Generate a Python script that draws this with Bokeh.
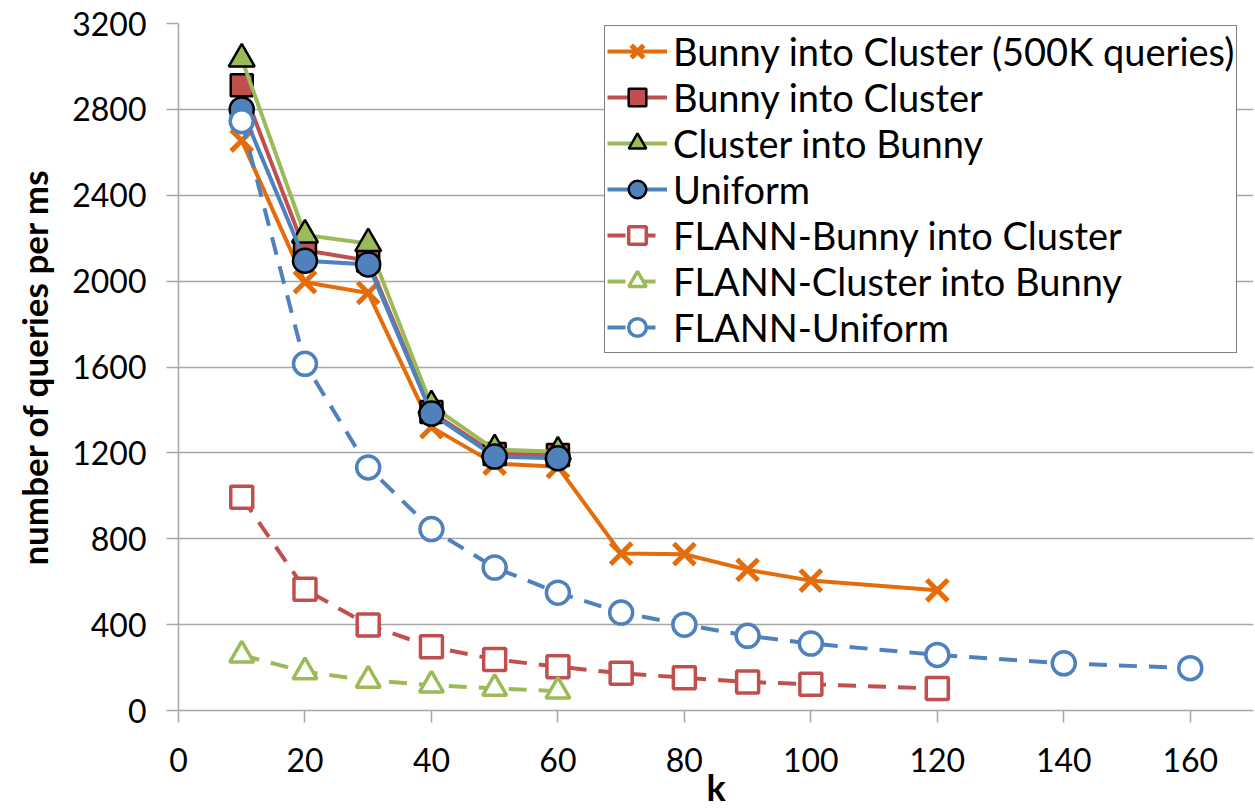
from bokeh.plotting import figure
from bokeh.models import Range1d, Legend, LegendItem, FixedTicker
from bokeh.embed import file_html
from bokeh.resources import INLINE

FONT = "Lato"

k_500k = [10, 20, 30, 40, 50, 60, 70, 80, 90, 100, 120]
bunny_500k = [2655, 1995, 1945, 1320, 1150, 1135, 731, 728, 655, 605, 560]

k_gpu = [10, 20, 30, 40, 50, 60]
bunny_cluster = [2912, 2144, 2095, 1390, 1195, 1190]
cluster_bunny = [3035, 2215, 2175, 1420, 1215, 1205]
uniform = [2800, 2095, 2078, 1383, 1183, 1175]

k_flann_bunny = [10, 20, 30, 40, 50, 60, 70, 80, 90, 100, 120]
flann_bunny = [993, 565, 398, 297, 238, 204, 173, 153, 133, 122, 102]

k_flann_cluster = [10, 20, 30, 40, 50, 60]
flann_cluster = [258, 180, 141, 118, 103, 90]

k_flann_uniform = [10, 20, 30, 40, 50, 60, 70, 80, 90, 100, 120, 140, 160]
flann_uniform = [2745, 1615, 1132, 845, 666, 549, 456, 400, 348, 312, 259, 220, 197]

x_ticks = [0, 20, 40, 60, 80, 100, 120, 140, 160]
y_ticks = [0, 400, 800, 1200, 1600, 2000, 2400, 2800, 3200]

ORANGE = "#E46C0A"
RED = "#C0504D"
GREEN = "#9BBB59"
BLUE = "#4F81BD"
GRID = "#a6a6a6"

p = figure(width=1255, height=811, output_backend="svg", toolbar_location=None,
           x_range=Range1d(0, 170), y_range=Range1d(0, 3200),
           min_border_left=178, min_border_right=2, min_border_top=23, min_border_bottom=101)
p.outline_line_color = None
p.background_fill_color = "white"
p.border_fill_color = "white"

p.xgrid.grid_line_color = None
p.ygrid.grid_line_color = GRID
p.ygrid.grid_line_width = 1.5
p.ygrid.ticker = FixedTicker(ticks=y_ticks)

p.xaxis.ticker = FixedTicker(ticks=x_ticks)
p.yaxis.ticker = FixedTicker(ticks=y_ticks)
for ax in (p.xaxis, p.yaxis):
    ax.axis_line_color = GRID
    ax.axis_line_width = 1.5
    ax.major_tick_line_color = GRID
    ax.major_tick_line_width = 1.5
    ax.major_tick_out = 12
    ax.major_tick_in = 0
    ax.minor_tick_line_color = None
    ax.major_label_text_font = FONT
    ax.major_label_text_font_size = "32px"
    ax.major_label_text_color = "black"
    ax.axis_label_text_font = FONT
    ax.axis_label_text_font_style = "bold"
    ax.axis_label_text_color = "black"

p.xaxis.axis_label = "k"
p.xaxis.axis_label_text_font_size = "36px"
p.xaxis.major_label_standoff = 25
p.xaxis.axis_label_standoff = -10
p.yaxis.axis_label = "number of queries per ms"
p.yaxis.axis_label_text_font_size = "35px"
p.yaxis.major_label_standoff = 20
p.yaxis.axis_label_standoff = 14

LW = 4
items = []

def solid(xs, ys, color, marker, size, fill, line_color, label):
    r1 = p.line(xs, ys, line_color=color, line_width=LW)
    if marker == "x":
        r2 = p.scatter(xs, ys, marker="x", size=size, line_color=color, line_width=5)
    else:
        r2 = p.scatter(xs, ys, marker=marker, size=size, fill_color=fill,
                       line_color=line_color, line_width=2.5)
    items.append(LegendItem(label=label, renderers=[r1, r2]))

def dashed(xs, ys, color, marker, size, label):
    r1 = p.line(xs, ys, line_color=color, line_width=LW, line_dash="18 12")
    r2 = p.scatter(xs, ys, marker=marker, size=size, fill_color="white",
                   line_color=color, line_width=3.5)
    items.append(LegendItem(label=label, renderers=[r1, r2]))

solid(k_500k, bunny_500k, ORANGE, "x", 30, None, None, "Bunny into Cluster (500K queries)")
solid(k_gpu, bunny_cluster, RED, "square", 22, RED, "black", "Bunny into Cluster")
solid(k_gpu, cluster_bunny, GREEN, "triangle", 26, GREEN, "black", "Cluster into Bunny")
solid(k_gpu, uniform, BLUE, "circle", 24, BLUE, "black", "Uniform")
dashed(k_flann_bunny, flann_bunny, RED, "square", 22, "FLANN-Bunny into Cluster")
dashed(k_flann_cluster, flann_cluster, GREEN, "triangle", 24, "FLANN-Cluster into Bunny")
dashed(k_flann_uniform, flann_uniform, BLUE, "circle", 23, "FLANN-Uniform")

legend = Legend(items=items, location=(426, 357))
legend.label_text_font = FONT
legend.label_text_font_size = "38px"
legend.label_text_color = "black"
legend.label_height = 44
legend.label_standoff = 6
legend.glyph_width = 60
legend.glyph_height = 44
legend.spacing = 0
legend.padding = 2
legend.margin = 0
legend.border_line_color = "black"
legend.border_line_width = 1.5
legend.background_fill_color = "white"
legend.background_fill_alpha = 1.0
p.add_layout(legend, "center")

open("out.html", "w").write(file_html(p, INLINE))
